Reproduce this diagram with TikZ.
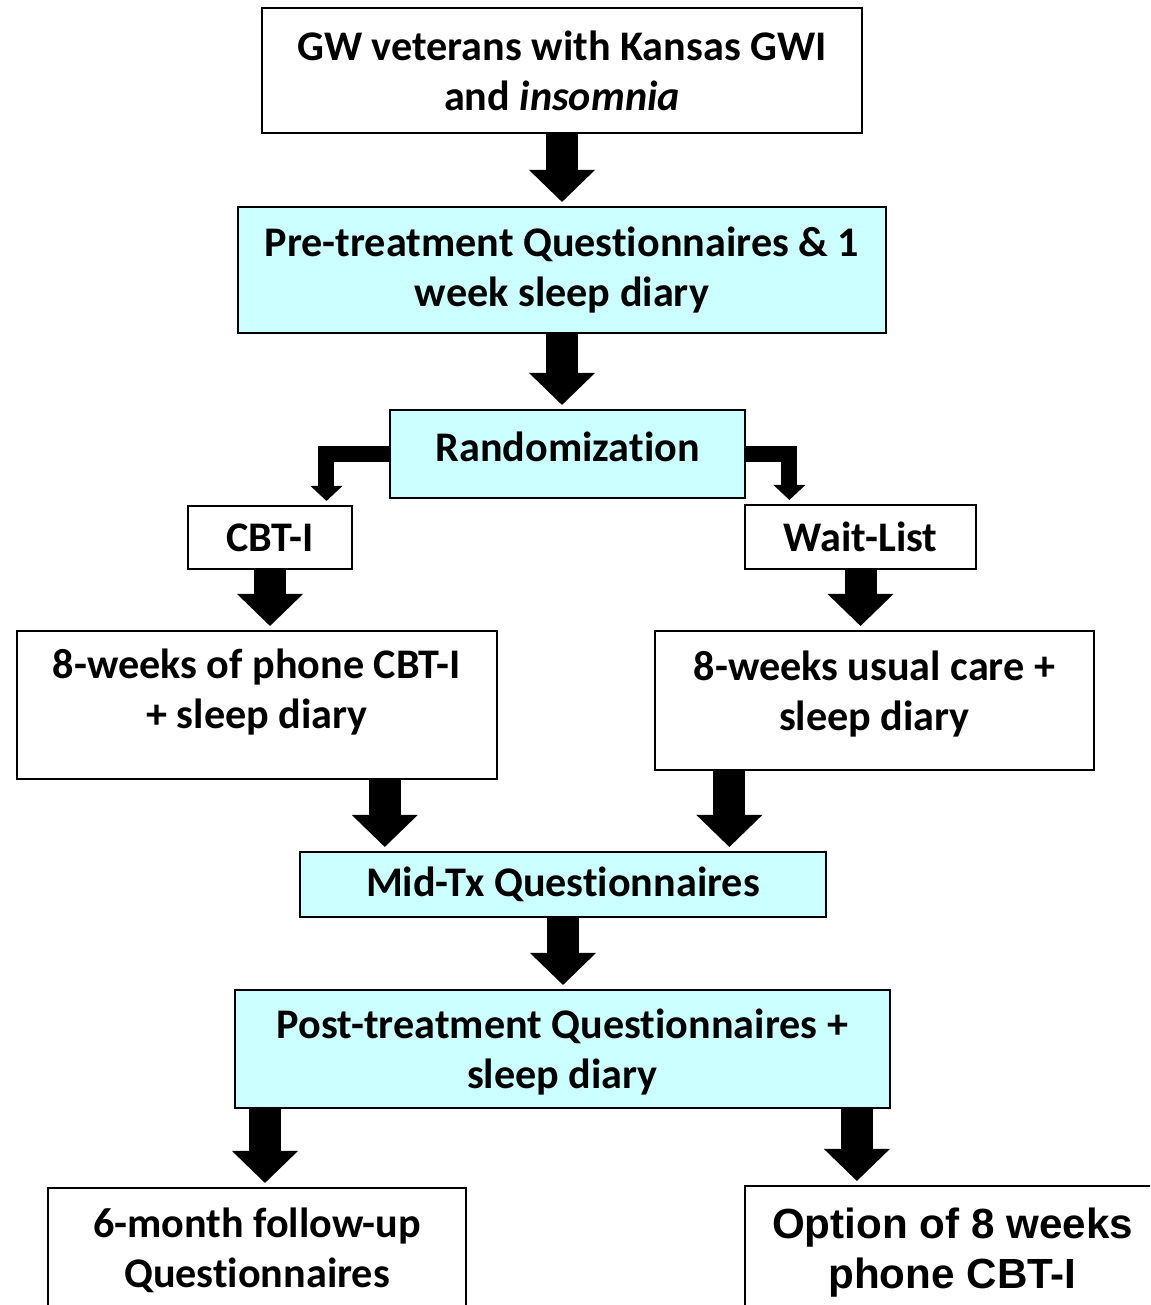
\documentclass[tikz,border=0pt]{standalone}
\usepackage{fontspec}
\setmainfont{Carlito}[Ligatures=NoCommon]
\newfontfamily\arialfont{Liberation Sans}
\usetikzlibrary{arrows.meta}
\usetikzlibrary{positioning}
\usetikzlibrary{calc}
\definecolor{paleaqua}{HTML}{CCFFFF}
\tikzset{box/.style = {draw, line width=1.2pt, align=center, inner sep=0pt,
                       font=\bfseries\fontsize{24}{28.45}\selectfont}}
\tikzset{qbox/.style = {box, fill=paleaqua}}
\tikzset{blk/.style = {line width=0.64cm, shorten >=0.08cm,
                       -{Triangle[length=0.64cm, width=1.32cm, line width=0pt]}}}
\tikzset{bent/.style = {line width=0.32cm, shorten >=0.08cm,
                        -{Triangle[length=0.3cm, width=0.64cm, line width=0pt]}}}

\begin{document}
\begin{tikzpicture}
    \path [use as bounding box, clip] (0, 0) rectangle (23, -26.1);

    \node [box, minimum width=12cm, minimum height=2.5cm] (vets) at (11.24, -1.41) {GW veterans with Kansas GWI\\and \textit{insomnia}};
    \node [qbox, minimum width=12.96cm, minimum height=2.52cm] (pre) at (11.24, -5.4) {Pre-treatment Questionnaires \& 1\\week sleep diary};
    \node [qbox, minimum width=7.1cm, minimum height=1.76cm, text depth=0.28cm] (rand) at (11.35, -9.08) {Randomization};

    \node [box, minimum width=3.28cm, minimum height=1.26cm] (cbt) at (5.4, -10.75) {CBT-I};
    \node [box, minimum width=4.62cm, minimum height=1.28cm] (wait) at (17.21, -10.74) {Wait-List};

    \node [box, minimum width=9.6cm, minimum height=2.96cm, text depth=0.64cm] (phone) at (5.14, -14.1) {8-weeks of phone CBT-I\\+ sleep diary};
    \node [box, minimum width=8.78cm, minimum height=2.78cm, text depth=0.4cm] (usual) at (17.49, -14.01) {8-weeks usual care +\\sleep diary};

    \node [qbox, minimum width=10.52cm, minimum height=1.3cm] (mid) at (11.26, -17.69) {Mid-Tx Questionnaires};
    \node [qbox, minimum width=13.1cm, minimum height=2.36cm, text depth=0pt] (post) at (11.25, -20.98) {Post-treatment Questionnaires +\\sleep diary};

    \node [box, minimum width=8.36cm, minimum height=2.48cm] (follow) at (5.14, -25) {6-month follow-up\\Questionnaires};
    \node [box, minimum width=8.3cm, minimum height=2.68cm, font=\arialfont\bfseries\fontsize{24}{28.45}\selectfont] (option) at (19.05, -25.06) {Option of 8 weeks\\phone CBT-I};

    \coordinate (cbtin) at ($(cbt.north west)!0.84!(cbt.north east)$);
    \coordinate (waitin) at ($(wait.north west)!0.195!(wait.north east)$);
    \coordinate (phoneout) at ($(phone.south west)!0.765!(phone.south east)$);
    \coordinate (usualout) at ($(usual.south west)!0.171!(usual.south east)$);
    \coordinate (followin) at ($(follow.north west)!0.519!(follow.north east)$);
    \coordinate (optionout) at ($(post.south west)!0.948!(post.south east)$);

    \draw [blk] (vets.south) -- (pre.north);
    \draw [blk] (pre.south) -- (pre.south |- rand.north);
    \draw [bent] (rand.west) -| (cbtin);
    \draw [bent] (rand.east) -| (waitin);
    \draw [blk] (cbt.south) -- (cbt.south |- phone.north);
    \draw [blk] (wait.south) -- (wait.south |- usual.north);
    \draw [blk] (phoneout) -- (phoneout |- mid.north);
    \draw [blk] (usualout) -- (usualout |- mid.north);
    \draw [blk] (mid.south) -- (mid.south |- post.north);
    \draw [blk] (followin |- post.south) -- (followin);
    \draw [blk] (optionout) -- (optionout |- option.north);
  \end{tikzpicture}
\end{document}
